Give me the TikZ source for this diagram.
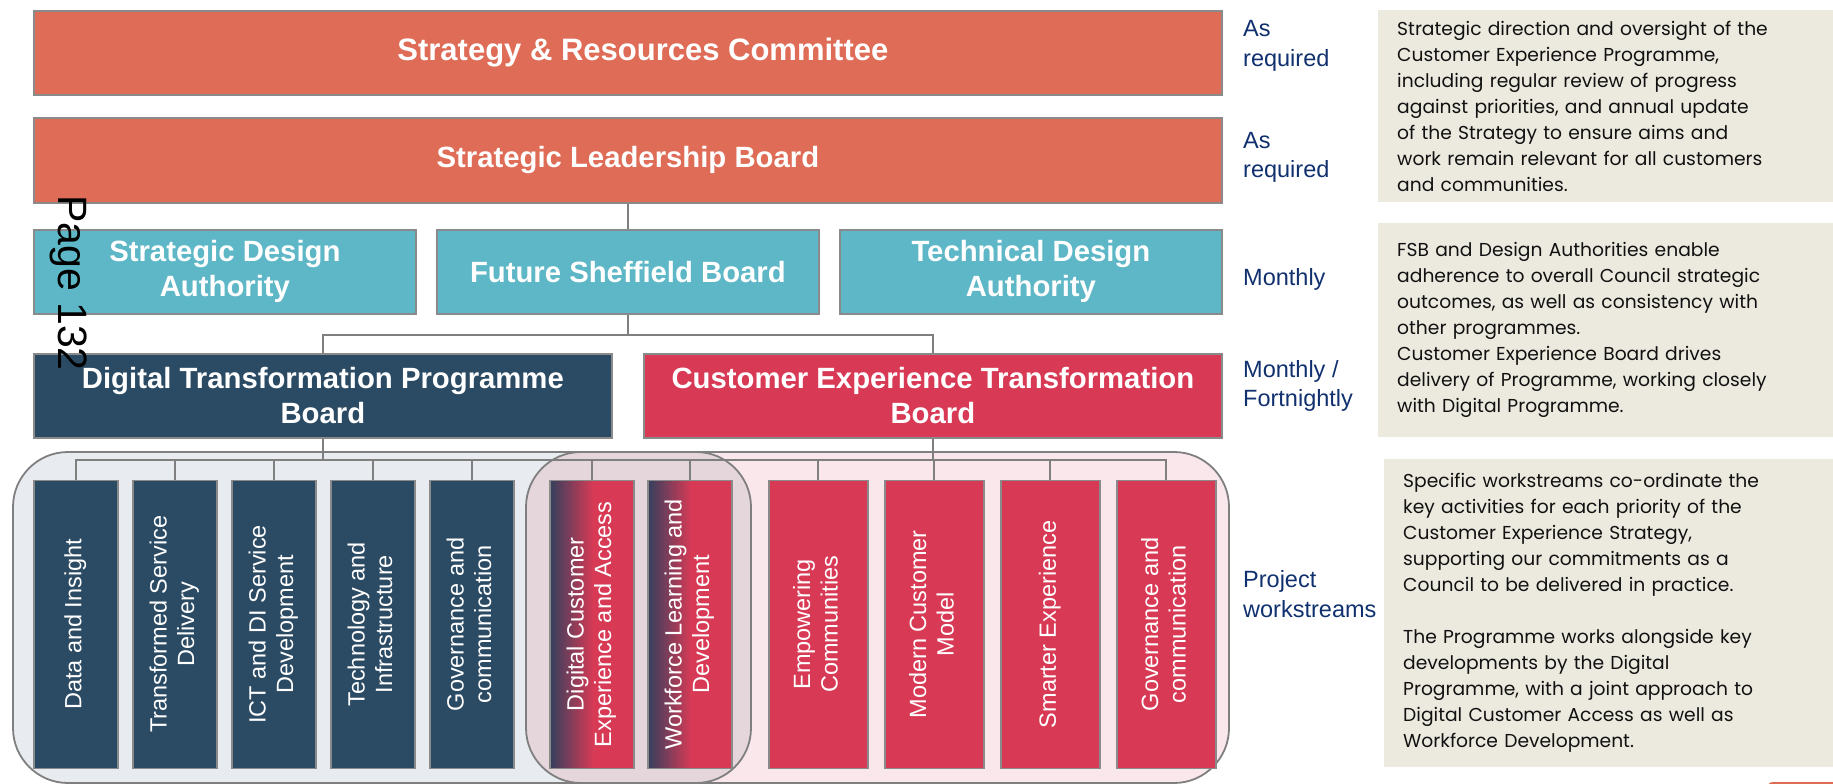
\documentclass[tikz,border=0pt]{standalone}
\usepackage{fontspec}
\usepackage{graphicx}
\setmainfont{Liberation Sans}
\newfontfamily\notefont{Poppins}

\definecolor{srcred}{HTML}{DF6C56}
\definecolor{boardcyan}{HTML}{5DB7C6}
\definecolor{boardnavy}{HTML}{2B4A63}
\definecolor{boardred}{HTML}{D83A55}
\definecolor{jointnavy}{HTML}{34405E}
\definecolor{edgegrey}{HTML}{8A8A8A}
\definecolor{linegrey}{HTML}{7F7F7F}
\definecolor{freqblue}{HTML}{10306E}
\definecolor{notebg}{HTML}{ECEADF}
\definecolor{notetext}{HTML}{111111}
\definecolor{digitalbg}{HTML}{E8EBEF}
\definecolor{customerbg}{HTML}{FAE7EB}
\definecolor{jointbg}{HTML}{E5D6DC}

% shared workstreams fade from digital navy into customer red
\pgfdeclarehorizontalshading{jointfade}{100bp}{color(0bp)=(jointnavy); color(25bp)=(jointnavy); color(51bp)=(boardred); color(100bp)=(boardred)}

\newcommand\vlines[1]{\rotatebox{90}{\begin{tabular}{@{}c@{}}#1\end{tabular}}}

\begin{document}
\begin{tikzpicture}[x=1pt, y=-1pt,
  board/.style={draw=edgegrey, line width=1.8pt, anchor=north west, inner sep=0pt,
    align=center, text=white, font=\bfseries\fontsize{29.3}{35}\selectfont},
  wsbox/.style={draw=edgegrey, line width=1.6pt, anchor=north west, inner sep=0pt,
    minimum height=288pt, text=white, font=\fontsize{23.5}{27.5}\selectfont},
  dws/.style={wsbox, fill=boardnavy, minimum width=84pt},
  jws/.style={wsbox, shade, shading=jointfade, minimum width=84pt},
  cws/.style={wsbox, fill=boardred, minimum width=99pt},
  freq/.style={anchor=west, inner sep=0pt, align=left, text=freqblue,
    font=\fontsize{23.5}{29.5}\selectfont},
  note/.style={anchor=north west, fill=notebg, inner xsep=19pt, inner ysep=0pt,
    text width=430pt, align=left, text=notetext, font=\notefont\fontsize{18.7}{26}\selectfont},
  conn/.style={draw=linegrey, line width=1.8pt},
  region/.style={draw=linegrey, line width=1.8pt, rounded corners=55pt}
]
\useasboundingbox (0,0) rectangle (1833,784);

% workstream groupings
\fill[digitalbg, rounded corners=55pt] (13,452) rectangle (751,783);
\fill[customerbg, rounded corners=55pt] (526,452) rectangle (1229,783);
\begin{scope}
  \clip[rounded corners=55pt] (13,452) rectangle (751,783);
  \fill[jointbg, rounded corners=55pt] (526,452) rectangle (1229,783);
\end{scope}
\draw[region] (13,452) rectangle (751,783);
\draw[region] (526,452) rectangle (1229,783);

% governance boards
\node[board, fill=srcred, minimum width=1188pt, minimum height=84pt, font=\bfseries\fontsize{31}{35}\selectfont] (src) at (33,10) {\hspace*{30pt}Strategy \& Resources Committee};
\node[board, fill=srcred, minimum width=1188pt, minimum height=85pt] (slb) at (33,117) {Strategic Leadership Board};
\node[board, fill=boardcyan, minimum width=382pt, minimum height=84pt] (sda) at (33,229) {Strategic Design\\Authority};
\node[board, fill=boardcyan, minimum width=382pt, minimum height=84pt] (fsb) at (436,229) {Future Sheffield Board};
\node[board, fill=boardcyan, minimum width=382pt, minimum height=84pt] (tda) at (839,229) {Technical Design\\Authority};
\node[board, fill=boardnavy, minimum width=578pt, minimum height=84pt] (dtpb) at (33,353) {Digital Transformation Programme\\Board};
\node[board, fill=boardred, minimum width=578pt, minimum height=84pt] (cetb) at (643,353) {Customer Experience Transformation\\Board};

% project workstreams
\node[dws] (w1) at (33,479.5) {\vlines{Data and Insight}};
\node[dws] (w2) at (132,479.5) {\vlines{Transformed Service\\Delivery}};
\node[dws] (w3) at (231,479.5) {\vlines{ICT and DI Service\\Development}};
\node[dws] (w4) at (330,479.5) {\vlines{Technology and\\Infrastructure}};
\node[dws] (w5) at (429,479.5) {\vlines{Governance and\\communication}};
\node[jws] (w6) at (549,479.5) {\vlines{Digital Customer\\Experience and Access}};
\node[jws] (w7) at (647,479.5) {\vlines{Workforce Learning and\\Development}};
\node[cws] (r1) at (768,479.5) {\vlines{Empowering\\Communities}};
\node[cws] (r2) at (884,479.5) {\vlines{Modern Customer\\Model}};
\node[cws] (r3) at (1000,479.5) {\vlines{Smarter Experience}};
\node[cws] (r4) at (1116,479.5) {\vlines{Governance and\\communication}};

% reporting lines
\draw[conn] (slb.south) -- (fsb.north);
\draw[conn] (fsb.south) -- ++(0,20) coordinate (fsbbus) -| (dtpb.north);
\draw[conn] (fsbbus) -| (cetb.north);
\draw[conn] (dtpb.south) -- ++(0,21) coordinate (dbus);
\foreach \w in {w1,w2,w3,w4,w5,w6,w7} \draw[conn] (dbus) -| (\w.north);
\draw[conn] (cetb.south) -- ++(0,21) coordinate (cbus);
\foreach \w in {w6,w7,r1,r2,r3,r4} \draw[conn] (cbus) -| (\w.north);

% meeting frequency
\node[freq] (f1) at (1243,46) {As\\required};
\node[freq] (f2) at (1243,157.5) {As\\required};
\node[freq] (f3) at (1243,279.5) {Monthly};
\node[freq] (f4) at (1243,386) {Monthly /\\Fortnightly};
\node[freq] (f5) at (1243,594) {Project\\workstreams};

% role descriptions
\node[note, minimum height=192pt] (n1) at (1378,10) {Strategic direction and oversight of the\\
Customer Experience Programme,\\
including regular review of progress\\
against priorities, and annual update\\
of the Strategy to ensure aims and\\
work remain relevant for all customers\\
and communities.};
\node[note, minimum height=214pt] (n2) at (1378,223) {FSB and Design Authorities enable\\
adherence to overall Council strategic\\
outcomes, as well as consistency with\\
other programmes.\\
Customer Experience Board drives\\
delivery of Programme, working closely\\
with Digital Programme.};
\node[note, minimum height=308pt] (n3) at (1384,459) {Specific workstreams co-ordinate the\\
key activities for each priority of the\\
Customer Experience Strategy,\\
supporting our commitments as a\\
Council to be delivered in practice.\\[26pt]
The Programme works alongside key\\
developments by the Digital\\
Programme, with a joint approach to\\
Digital Customer Access as well as\\
Workforce Development.};

% page stamp
\node[rotate=-90, anchor=base west, inner sep=0pt, font=\fontsize{41}{41}\selectfont] (pg) at (58,195) {Page 132};

% edge of the next panel
\begin{scope}
  \clip (0,0) rectangle (1833,784);
  \fill[srcred, rounded corners=6pt] (1767,782) rectangle (1860,800);
\end{scope}
\end{tikzpicture}
\end{document}
